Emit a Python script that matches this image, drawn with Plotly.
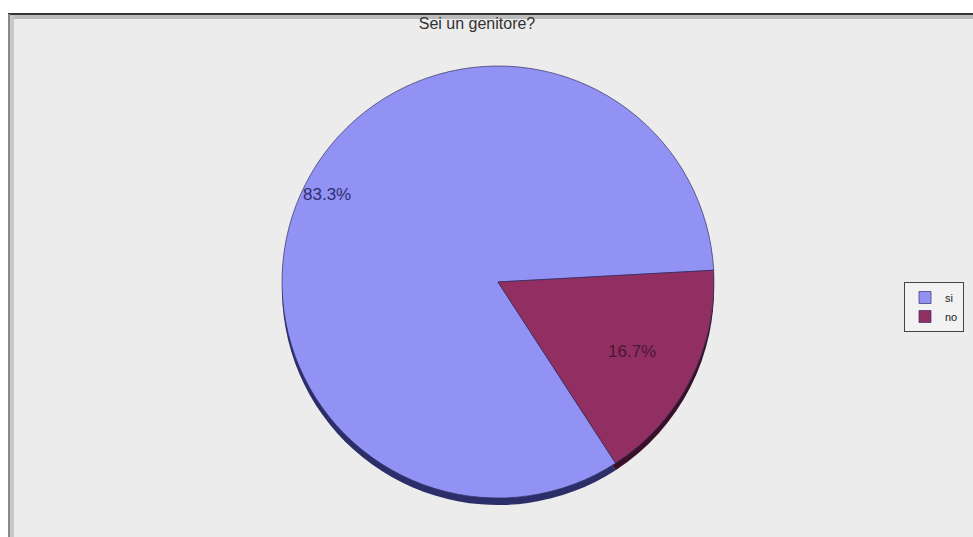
import math
import plotly.graph_objects as go

title_text = "Sei un genitore?"
labels = ["si", "no"]
values = [83.3, 16.7]
slice_colors = ["#9292F4", "#922F62"]
shadow_colors = ["#2C2E6A", "#3A1028"]
text_colors = ["#2E2E6E", "#4A1632"]
label_radius = [0.89, 0.83]

W, H = 973, 537
FONT = "Liberation Sans, Arial, sans-serif"

def px_x(x):
    return x / W

def px_y(y):
    return 1 - y / H

cx, cy, r = 498, 282, 216
shadow_dy = 7
rotation = 147

fig = go.Figure()

# shadow pie (3D rim effect)
fig.add_trace(go.Pie(
    labels=labels, values=values, sort=False, direction="clockwise", rotation=rotation,
    marker=dict(colors=shadow_colors, line=dict(width=0)),
    textinfo="none", hoverinfo="skip", showlegend=False,
    domain=dict(x=[px_x(cx - r), px_x(cx + r)], y=[px_y(cy + r + shadow_dy), px_y(cy - r + shadow_dy)]),
))

fig.add_trace(go.Pie(
    labels=labels, values=values, sort=False, direction="clockwise", rotation=rotation,
    marker=dict(colors=slice_colors, line=dict(color="rgba(50,50,100,0.7)", width=1)),
    textinfo="none",
    domain=dict(x=[px_x(cx - r), px_x(cx + r)], y=[px_y(cy + r), px_y(cy - r)]),
))

# percentage labels placed at each slice's mid-angle
total = sum(values)
annotations = []
cum = 0.0
for lab, v, col, rf in zip(labels, values, text_colors, label_radius):
    mid = rotation + (cum + v / 2) / total * 360
    cum += v
    a = math.radians(mid)
    x = cx + rf * r * math.sin(a)
    y = cy - rf * r * math.cos(a)
    annotations.append(dict(
        text=f"{v / total * 100:.1f}%", x=px_x(x), y=px_y(y), xref="paper", yref="paper",
        showarrow=False, font=dict(family=FONT, size=17, color=col),
    ))

shapes = [
    dict(type="rect", xref="paper", yref="paper", x0=px_x(8), x1=1.01, y0=-0.01, y1=px_y(13),
         fillcolor="#ECECEC", line=dict(width=0), layer="below"),
    dict(type="line", xref="paper", yref="paper", x0=px_x(8), x1=1.01, y0=px_y(14), y1=px_y(14),
         line=dict(color="#333333", width=2), layer="below"),
    dict(type="line", xref="paper", yref="paper", x0=px_x(8), x1=1.01, y0=px_y(17), y1=px_y(17),
         line=dict(color="#BBBBBB", width=4), layer="below"),
    dict(type="line", xref="paper", yref="paper", x0=px_x(9), x1=px_x(9), y0=-0.01, y1=px_y(14),
         line=dict(color="#888888", width=2), layer="below"),
    dict(type="line", xref="paper", yref="paper", x0=px_x(12), x1=px_x(12), y0=-0.01, y1=px_y(15),
         line=dict(color="#C8C8C8", width=4), layer="below"),
]

fig.update_layout(
    width=W, height=H,
    margin=dict(l=0, r=0, t=0, b=0, autoexpand=False),
    paper_bgcolor="#FFFFFF",
    shapes=shapes,
    annotations=annotations,
    title=dict(text=title_text, x=px_x(477), xanchor="center", y=px_y(23), yanchor="middle",
               font=dict(family=FONT, size=16, color="#333333")),
    legend=dict(x=px_x(964), y=px_y(282), xanchor="right", yanchor="top",
                bgcolor="#F2F2F2", bordercolor="#444444", borderwidth=1,
                font=dict(family=FONT, size=11, color="#222222"),
                itemwidth=30, tracegroupgap=0),
)

fig.write_html("out.html", config={"displayModeBar": False},
               post_script="document.body.style.margin='0';document.body.style.overflow='hidden';")
